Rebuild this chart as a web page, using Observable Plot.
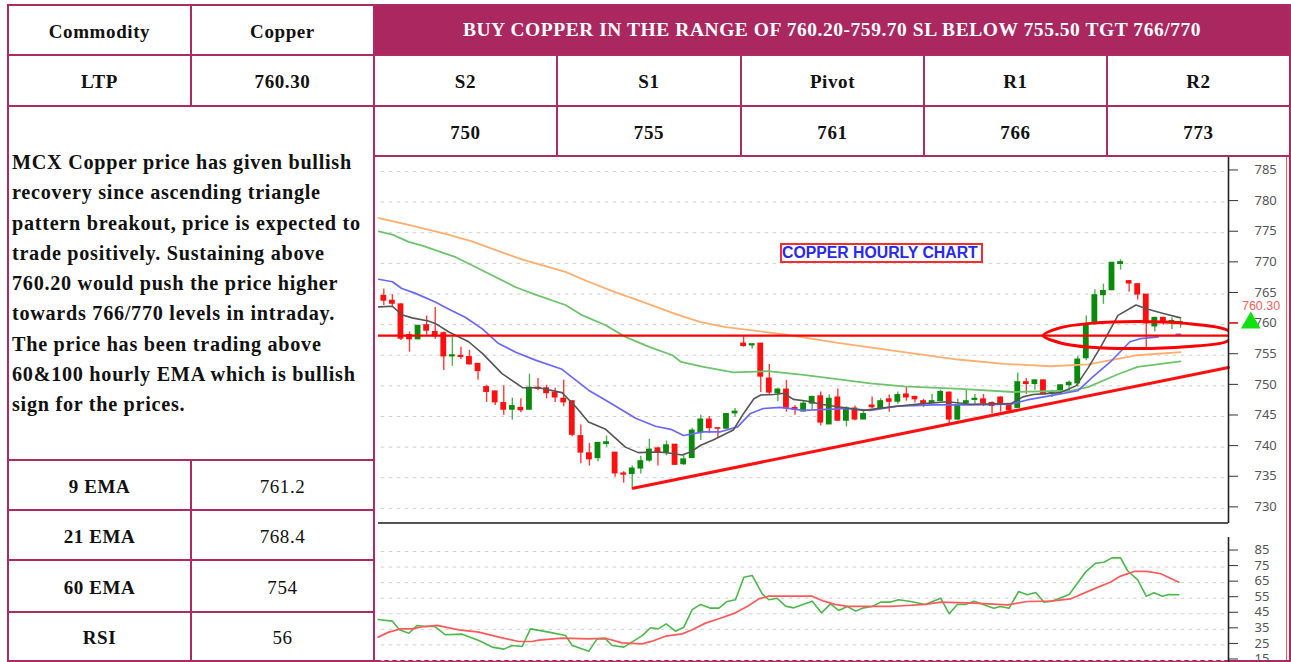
<!DOCTYPE html>
<html><head><meta charset="utf-8">
<script src="https://cdn.jsdelivr.net/npm/d3@7"></script>
<script src="https://cdn.jsdelivr.net/npm/@observablehq/plot@0.6"></script>
<style>
html,body{margin:0;padding:0;background:#fff;overflow:hidden}
#page{position:relative;width:1291px;height:662px;font-family:"Liberation Serif",serif;color:#111;overflow:hidden}
.cell{position:absolute;box-sizing:border-box;border:2px solid #ab2b62;display:flex;align-items:center;justify-content:center;font-size:19px;font-weight:bold;letter-spacing:.6px;padding-top:3px}
.plain{font-weight:normal}
.head{background:#ab2760;color:#fff;font-size:19.5px;letter-spacing:.54px;padding-top:0;white-space:nowrap}
#note{position:absolute;left:12px;top:147px;width:360px;font-size:20.2px;font-weight:bold;line-height:30.25px;white-space:nowrap;letter-spacing:.72px}
#tag{position:absolute;left:780px;top:243px;width:203px;height:20px;box-sizing:border-box;border:2px solid #f03030;color:#2828f0;font:bold 15.8px "Liberation Sans",sans-serif;text-align:left;padding-left:0;line-height:16px;white-space:nowrap;background:#fff;overflow:hidden}
#edge{position:absolute;left:1286px;top:157px;width:1px;height:503px;background:#ff5050}
.chart{position:absolute;left:376px}
.chart svg{display:block}
</style></head><body>
<div id="page"></div>
<script>
const openPrice=[764.7,763.9,763.3,758.3,757.6,759.9,758.8,758.6,754.8,754.9,
754.7,753.6,749.8,749.1,747.2,746.1,746.4,746.1,749.7,749.6,
748.9,747.9,747.5,741.8,739.0,738.2,740.5,739.1,735.7,735.6,
736.5,737.8,739.8,739.1,740.4,737.2,738.2,742.4,744.5,743.1,
743.0,745.5,756.9,756.6,756.9,751.2,748.8,749.4,746.4,745.8,
747.1,748.3,743.7,748.1,744.3,746.3,744.5,746.8,746.3,747.8,
747.4,748.6,748.2,747.5,747.2,747.5,748.9,744.5,747.2,747.7,
747.8,747.2,748.1,746.7,746.4,750.6,750.3,750.9,748.8,749.0,
750.1,750.4,754.5,760.3,764.8,765.6,769.9,767.1,766.6,764.9,
759.7,761.1,760.4,760.3];
const closePrice=[763.9,763.4,757.7,757.6,759.8,759.0,758.1,754.8,755.0,754.7,
753.5,752.4,749.0,747.3,746.1,746.7,746.0,749.7,749.5,748.8,
748.1,747.3,742.0,739.1,738.0,740.7,740.8,735.7,735.5,736.5,
737.7,739.6,739.2,740.3,737.1,738.0,742.7,744.5,743.1,743.0,
745.4,745.8,756.5,756.8,751.5,748.9,749.4,746.3,746.1,747.1,
748.2,744.0,747.9,744.3,746.3,744.5,745.4,746.5,747.5,747.4,
748.5,748.1,747.8,747.2,747.5,749.0,744.5,746.8,747.5,747.9,
747.1,746.7,747.1,746.0,750.6,750.3,750.9,748.6,749.0,750.1,
750.5,754.3,760.0,764.8,765.5,770.1,770.2,766.7,764.9,760.2,
761.1,760.4,760.6,760.4];
const highPrice=[765.8,764.9,763.4,758.8,759.9,761.4,762.8,758.8,757.9,756.3,
755.8,753.6,750.1,749.1,750.0,748.0,747.9,751.9,751.2,750.1,
749.6,750.9,747.5,743.6,740.6,740.7,741.8,739.1,736.0,736.9,
738.5,741.3,740.0,741.0,740.4,738.7,743.1,745.2,745.0,743.2,
745.5,746.3,758.1,756.9,756.9,753.5,749.6,750.9,746.8,747.4,
748.3,749.0,748.5,749.5,746.6,746.7,746.0,748.2,747.9,748.5,
749.0,749.9,748.3,747.8,748.6,749.3,749.0,747.8,749.4,748.6,
748.6,747.4,748.2,747.0,752.1,751.2,751.0,750.9,749.3,750.1,
750.8,754.8,761.4,765.7,766.6,770.1,770.6,767.2,766.7,764.9,
761.2,761.2,761.1,760.8];
const lowPrice=[763.1,763.0,757.4,755.5,757.5,758.3,757.6,752.5,753.2,754.3,
753.4,750.9,747.3,746.8,745.2,744.4,745.6,746.1,749.2,747.9,
747.3,746.6,741.7,737.3,736.9,737.6,740.0,735.1,734.1,733.3,
735.6,737.5,736.9,738.6,737.1,737.0,738.2,741.1,742.2,741.4,
743.0,744.9,756.3,756.0,748.9,748.5,747.4,745.7,745.2,745.8,
746.1,743.5,743.7,744.3,743.3,744.3,744.5,746.3,746.3,745.7,
747.0,747.5,747.2,746.5,747.1,747.4,743.7,744.3,746.8,747.0,
746.6,745.4,745.7,745.7,746.4,748.6,749.3,748.6,748.1,748.9,
748.9,749.8,754.1,760.3,763.3,765.6,768.9,765.3,764.0,756.1,
758.8,759.9,759.2,759.4];

const ema9Bar=[-0.6,1,2.1,3.3,5.2,6,7.6,9.9,11.5,13.8,16.2,18.1,20.8,22.4,23.9,25.9,28.2,29.7,32.1,33.5,34.8,35.8,37,38.5,40.8,42,43.2,44,45.5,46.7,47.8,49.5,51,53,56,58.8,60.7,63,65.8,68.5,73.2,74.6,75.8,79,80.8,82.2,83.7,85.7,87.8,89.2,91,93];
const ema9Val=[762.9,763,761.6,761.1,760.6,760.2,758.8,757.2,755.3,752,749.7,749.7,748.9,746.6,744.1,742.9,740,739.1,739.2,739,738.7,739.2,740.3,741.2,742.8,745.5,747.9,748.5,748.6,748.8,747.8,747.5,747,746.6,746,746.5,746.8,747.1,747.4,747,747.1,748.2,748.6,748.9,750,752.9,756.4,761.5,763.2,762.5,761.8,761.1];
const ema21Bar=[-0.6,1,2.1,3.7,6,7.6,9.5,11.5,13.4,15.4,17.7,20.8,23.9,26.2,29.4,31.7,33.5,35,37.3,39.3,41.3,42.8,44.3,46.3,49,54.1,56.8,60,64.2,68.5,73.2,75.1,78.2,81,82.8,84.8,87.1,88.3,90.4,91.5,92.5,93];
const ema21Val=[767.4,767,765.9,765.1,763.7,762.5,761.2,759.3,756.9,755.5,754.2,752.7,749.3,747.4,744.7,743.4,742.9,741.9,742.5,742.5,743.3,745.5,746.3,746.5,746,746.3,746,746.7,746.9,746.9,747,747.7,748.5,749.2,751.5,753.9,757.2,757.7,758,null,758.4,758.4];
const ema60Bar=[-0.6,1,2.9,4.5,8.4,10.7,15.4,17.7,21.2,23.2,25.9,28.2,30.9,33.7,34.7,37.3,40.8,44.8,49,56.8,60.7,67.3,73.5,80.2,82.2,85.7,88,93];
const ema60Val=[775.2,774.7,773.5,772.9,771,769.4,766.1,764.9,763.2,761.5,759.9,758,756.4,755,753.9,753.1,752.2,752.4,751.8,750.4,749.9,749.5,749,749.2,749.8,751.9,753.1,754];
const ema100Bar=[-0.6,2.9,7.2,10.3,13,16.2,21.2,23.9,27,30.2,34.1,37,39.9,42.8,46.7,53,60.7,67,72.4,77.8,82.2,88,93];
const ema100Val=[777.4,776.3,774.8,773.6,772.2,770.6,768.6,767,765.3,763.7,761.7,760.4,759.6,759.1,758.4,757,755.5,754.3,753.6,753.2,753.5,755,755.5];

const supportLevel=758.2;
const trendBar=[29.1,98.6];
const trendPrice=[733.3,753.0];
const ringBar=[77,79,82.5,88,93.6,98.3,99.1,98.3,93.6,88,82.5,79];
const ringPrice=[758.2,759.5,760.2,760.5,760.2,759.2,758.2,757.2,756.4,756.1,756.3,757];
const lastPrice=760.30;
const priceTicks=[730,735,740,745,750,755,760,765,770,775,780,785];

const rsiBar=[-0.66,0.98,1.83,2.92,3.89,4.87,5.96,7.2,9.15,11.09,12.65,14.01,14.98,16.15,17.12,19.26,21.21,21.99,23.93,24.9,25.88,26.66,28.02,30.16,31.13,32.03,32.96,34.05,35.02,36,36.97,38.14,39.11,40.08,41.05,42.03,43,44.17,44.95,45.92,46.89,47.86,50,51.09,52.15,53.1,54.1,55.1,56,57,58,59.15,60.1,61.5,63.2,65,66,66.94,67.9,68.9,71.2,72,73,74.1,75.1,76.1,77.05,78,80,81.9,83.1,84.05,85,86,86.8,88,89,89.9,90.9,91.6,92.8];
const rsiVal=[41.3,40.3,34.7,32.5,37.5,36.8,36.8,31.5,31.9,27.8,23.6,22.3,24.6,24,35.3,33.2,31,24.6,21,28.9,28.9,24.6,23.6,31,36,35.3,38.5,33.8,36.4,47.7,51,48.6,48.6,52.9,54,68.5,69.6,57.8,54,55,49.9,48.8,53.1,45.6,51.4,47.1,49.7,46.7,48.8,49.7,52.5,52.5,54,52.9,51,55,45,51,51,53.1,48.6,49.7,48.6,59.3,57.2,58.7,52.5,53.1,57.4,71.7,77.5,78.1,80.9,80.9,72.8,66.8,56.3,58.5,56.3,57.4,57.2];
const rsiMaBar=[-0.66,0.59,1.95,3.31,4.67,6.23,8.76,11.09,13.43,15.76,17.32,18.1,20.82,23.93,25.88,27.82,30.16,31.33,32.88,34.83,36,37.55,39.11,41.05,42.61,43.78,44.95,50,51.36,52.65,54.1,59.15,61.1,63.2,65,68.9,72.8,75.1,77.8,80.2,82.9,84.8,86,87.6,89.1,90.7,92.8];
const rsiMaVal=[30,33.2,35.3,35.3,36.8,37.5,34.7,33.2,30,27.2,27.2,28.1,29.3,28.9,29.3,26.3,25.7,27.4,30.6,32.1,34.7,39,41.8,45.6,50.3,54.6,56.3,56.3,53.1,51,49.7,49.7,50.3,51,52.5,51.8,50.7,52.9,53.1,54.6,61,65.3,69.2,72.2,72.2,70.7,65.3];
const rsiTicks=[15,25,35,45,55,65,75,85];

const headerText="BUY COPPER IN THE RANGE OF 760.20-759.70 SL BELOW 755.50 TGT 766/770";
const levelNames=["S2","S1","Pivot","R1","R2"];
const levelValues=["750","755","761","766","773"];
const studyNames=["9 EMA","21 EMA","60 EMA","RSI"];
const studyValues=["761.2","768.4","754","56"];
const noteLines=["MCX Copper price has given bullish","recovery since ascending triangle","pattern breakout, price is expected to","trade positively. Sustaining above","760.20 would push the price higher","towards 766/770 levels in intraday.","The price has been trading above","60&100 hourly EMA which is bullish","sign for the prices."];

const page=document.getElementById("page");
function cell(x0,y0,x1,y1,text,cls){
  const d=document.createElement("div");
  d.className="cell "+(cls||"");
  d.style.cssText=`left:${x0}px;top:${y0}px;width:${x1-x0+2}px;height:${y1-y0+2}px`;
  d.textContent=text; page.appendChild(d); return d;
}
const colsL=[7,190,373];
const colsR=[373,556,740,923,1106,1289];
const rows=[4,54,105,155];
const rowsB=[459,509,559,611,660];
cell(colsL[0],rows[0],colsL[1],rows[1],"Commodity");
cell(colsL[1],rows[0],colsL[2],rows[1],"Copper");
cell(colsL[0],rows[1],colsL[1],rows[2],"LTP");
cell(colsL[1],rows[1],colsL[2],rows[2],"760.30");
cell(colsL[2],rows[0],colsR[5],rows[1],headerText,"head");
levelNames.forEach((t,i)=>{cell(colsR[i],rows[1],colsR[i+1],rows[2],t);cell(colsR[i],rows[2],colsR[i+1],rows[3],levelValues[i]);});
cell(colsL[0],rows[2],colsL[2],rowsB[0],"");
cell(colsL[2],rows[3],colsR[5],rowsB[4],"");
studyNames.forEach((t,i)=>{cell(colsL[0],rowsB[i],colsL[1],rowsB[i+1],t);cell(colsL[1],rowsB[i],colsL[2],rowsB[i+1],studyValues[i],"plain");});
const note=document.createElement("div");note.id="note";note.innerHTML=noteLines.join("<br>");page.appendChild(note);
const edge=document.createElement("div");edge.id="edge";page.appendChild(edge);

const bars=d3.range(openPrice.length);
const pair=(xs,ys)=>xs.map((x,i)=>({x,y:ys[i]}));
const grid={stroke:"#cfcfcf",strokeDasharray:"3.5 4.5",strokeWidth:1};
const redC="#ff1010", greenC="#0a8a0a", wickG="#4fb04f", wickR="#ff3c3c";
const xDomain=[-0.62,98.6];
const up=i=>closePrice[i]>=openPrice[i];

const priceChart=Plot.plot({
  width:910,height:368,marginLeft:2,marginRight:58,marginTop:0,marginBottom:2,
  style:{background:"transparent",overflow:"visible"},
  x:{domain:xDomain,axis:null},
  y:{domain:[727.53,787.28],axis:null},
  marks:[
    Plot.ruleY(priceTicks,{...grid,x1:-0.3,x2:98.6}),
    Plot.ruleX(bars,{x:d=>d,y1:i=>lowPrice[i],y2:i=>highPrice[i],stroke:i=>up(i)?wickG:wickR,strokeWidth:1.4}),
    Plot.rect(bars,{x1:i=>i-0.34,x2:i=>i+0.34,y1:i=>Math.min(openPrice[i],closePrice[i])-0.08,y2:i=>Math.max(openPrice[i],closePrice[i])+0.08,fill:i=>up(i)?greenC:redC}),
    Plot.line(pair(ema100Bar,ema100Val),{x:"x",y:"y",stroke:"#ffae6e",strokeWidth:1.8}),
    Plot.line(pair(ema60Bar,ema60Val),{x:"x",y:"y",stroke:"#6cc46c",strokeWidth:1.8}),
    Plot.line(pair(ema21Bar,ema21Val),{x:"x",y:"y",stroke:"#6868fb",strokeWidth:1.7}),
    Plot.line(pair(ema9Bar,ema9Val),{x:"x",y:"y",stroke:"#555",strokeWidth:1.6}),
    Plot.ruleY([supportLevel],{x1:-0.62,x2:98.6,stroke:"#ff0000",strokeWidth:2.2}),
    Plot.line(pair(trendBar,trendPrice),{x:"x",y:"y",stroke:"#ff1010",strokeWidth:3}),
    Plot.line(pair(ringBar,ringPrice),{x:"x",y:"y",stroke:"#ff0000",strokeWidth:3,curve:"catmull-rom-closed",clip:true}),
    Plot.ruleX([98.6],{stroke:"#222",strokeWidth:1.6}),
    Plot.ruleY([727.6],{x1:-0.62,x2:98.6,stroke:"#555",strokeWidth:2}),
    Plot.axisY(priceTicks,{anchor:"right",label:null,tickSize:9,tickPadding:17,fontSize:13,fill:"#555",stroke:"#333",tickFormat:d=>d,dy:-1.5}),
    Plot.link([lastPrice],{x1:98.6,x2:99.7,y1:d=>d,y2:d=>d,stroke:"#ff2020",strokeWidth:1.4}),
    Plot.dot([lastPrice],{x:101.2,y:d=>d,symbol:"triangle",r:6.3,fill:"#10e010",stroke:"#10e010"}),
    Plot.text([lastPrice],{x:102.4,y:d=>d+2.75,text:d=>d.toFixed(2),fill:"#f46060",fontSize:12.5,fontFamily:"Liberation Sans"})
  ]
});
const topBox=document.createElement("div");topBox.className="chart";topBox.style.top="157px";topBox.appendChild(priceChart);page.appendChild(topBox);

const rsiChart=Plot.plot({
  width:910,height:125,marginLeft:2,marginRight:58,marginTop:0,marginBottom:0,
  style:{background:"transparent",overflow:"visible"},
  x:{domain:xDomain,axis:null},
  y:{domain:[13.7,94],axis:null},
  marks:[
    Plot.ruleY(rsiTicks,{...grid,x1:-0.3,x2:98.6}),
    Plot.line(pair(rsiBar,rsiVal),{x:"x",y:"y",stroke:"#4cb84c",strokeWidth:1.6}),
    Plot.line(pair(rsiMaBar,rsiMaVal),{x:"x",y:"y",stroke:"#ff5a5a",strokeWidth:1.7}),
    Plot.ruleX([98.6],{stroke:"#222",strokeWidth:1.6}),
    Plot.axisY(rsiTicks,{anchor:"right",label:null,tickSize:9,tickPadding:17,fontSize:13,fill:"#555",stroke:"#333",tickFormat:d=>d,dy:-1.5})
  ]
});
const botBox=document.createElement("div");botBox.className="chart";botBox.style.top="537px";botBox.appendChild(rsiChart);page.appendChild(botBox);

const tag=document.createElement("div");tag.id="tag";tag.textContent="COPPER HOURLY CHART";page.appendChild(tag);
</script>
</body></html>
